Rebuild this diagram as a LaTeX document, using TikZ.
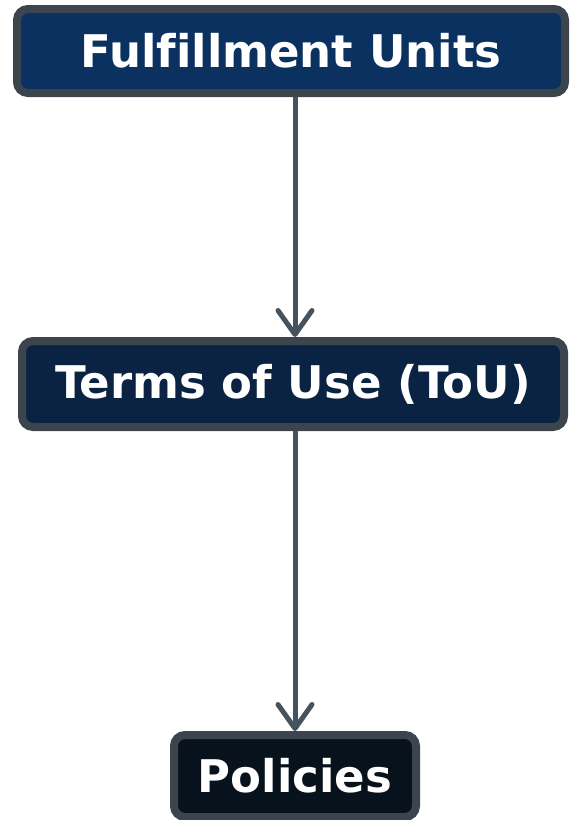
\documentclass[tikz,border=0pt]{standalone}
\usepackage{fontspec}
\setmainfont{DejaVu Sans}[Ligatures=NoCommon]
\usepackage{tikz}
\usetikzlibrary{arrows.meta}
\definecolor{edgegray}{HTML}{3C454E}
\definecolor{linkgray}{HTML}{46525C}
\definecolor{unitblue}{HTML}{0A3160}
\definecolor{toublue}{HTML}{0B2343}
\definecolor{polblack}{HTML}{08121D}

\begin{document}
\begin{tikzpicture}[x=1pt,y=1pt,
    box/.style={draw=edgegray, line width=8pt, rounded corners=11pt,
      text=white, font=\bfseries\fontsize{45}{50}\selectfont, inner sep=0pt},
    link/.style={-{Straight Barb[length=24pt,width=34pt,line cap=round,round]},
      line width=5pt, draw=linkgray}]
      \useasboundingbox (0,0) rectangle (570,-820);
      \node[box, fill=unitblue, minimum width=548, minimum height=84] (units) at (291,-51) {Fulfillment Units};
      \node[box, fill=toublue, minimum width=542, minimum height=86] (tou) at (293,-384) {Terms of Use (ToU)};
      \node[box, fill=polblack, minimum width=242, minimum height=82] (pol) at (295,-776) {Policies};
      \draw[link] (units.south -| pol.center) -- (tou.north -| pol.center);
      \draw[link] (tou.south -| pol.center) -- (pol.north);
    \end{tikzpicture}
\end{document}
